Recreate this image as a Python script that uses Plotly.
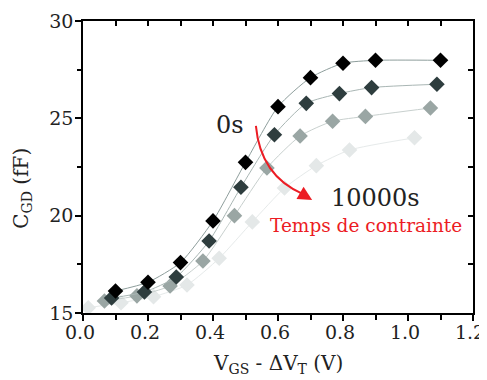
import plotly.graph_objects as go

# Data
x_0s = [0.10, 0.20, 0.30, 0.40, 0.50, 0.60, 0.70, 0.80, 0.90, 1.10]
y_0s = [16.13, 16.58, 17.59, 19.73, 22.74, 25.60, 27.09, 27.83, 27.98, 27.98]

x_s2 = [0.088, 0.189, 0.287, 0.388, 0.486, 0.589, 0.687, 0.789, 0.888, 1.089]
y_s2 = [15.77, 16.08, 16.85, 18.70, 21.46, 24.16, 25.77, 26.27, 26.58, 26.75]

x_s3 = [0.066, 0.166, 0.268, 0.369, 0.466, 0.566, 0.668, 0.768, 0.869, 1.069]
y_s3 = [15.62, 15.88, 16.39, 17.67, 20.00, 22.45, 24.09, 24.85, 25.10, 25.53]

x_10000s = [0.016, 0.117, 0.217, 0.320, 0.419, 0.521, 0.620, 0.718, 0.820, 1.020]
y_10000s = [15.27, 15.53, 15.84, 16.44, 17.81, 19.68, 21.42, 22.57, 23.37, 24.00]

x_ticks = [0.0, 0.2, 0.4, 0.6, 0.8, 1.0, 1.2]
x_ticklabels = ["0.0", "0.2", "0.4", "0.6", "0.8", "1.0", "1.2"]
y_ticks = [15, 20, 25, 30]
y_ticklabels = ["15", "20", "25", "30"]

marker_colors = ["#000000", "#2e3d3e", "#9aa6a4", "#e4e8e8"]
line_colors = ["#8e9e9c", "#a9b6b4", "#c8d0ce", "#e6eaea"]

series = [(x_0s, y_0s), (x_s2, y_s2), (x_s3, y_s3), (x_10000s, y_10000s)]

FONT = "DejaVu Serif"
RED = "#ec1c24"
TXT = "#222222"
XR = [0, 1.2000001]

fig = go.Figure()
for i, (xs, ys) in enumerate(reversed(series)):
    k = 3 - i
    fig.add_trace(go.Scatter(
        x=xs, y=ys, mode="lines+markers",
        line=dict(color=line_colors[k], width=1, shape="spline", smoothing=0.6),
        marker=dict(symbol="diamond", size=12, color=marker_colors[k]),
        showlegend=False,
    ))

fig.add_trace(go.Scatter(x=[None], y=[None], xaxis="x2", yaxis="y2", showlegend=False))

# the page body adds an 8px offset, so the figure is sized to the visible area
fig.update_layout(
    width=479, height=372,
    margin=dict(l=75, r=14, t=13, b=67),
    plot_bgcolor="white", paper_bgcolor="white",
    font=dict(family=FONT, size=19, color=TXT),
    xaxis=dict(
        range=XR, tickmode="array", tickvals=x_ticks, ticktext=x_ticklabels,
        ticks="outside", ticklen=6, tickwidth=1.5, tickcolor="black",
        minor=dict(dtick=0.1, tick0=0, ticks="outside", ticklen=5, tickwidth=1.5, tickcolor="black"),
        showline=True, linecolor="black", linewidth=1.5, showgrid=False, zeroline=False,
        tickfont=dict(family=FONT, size=19, color=TXT),
        ticklabelstandoff=-5, ticklabelshift=-3, automargin=False, ticklabeloverflow="allow",
    ),
    yaxis=dict(
        range=[15, 30], tickmode="array", tickvals=y_ticks, ticktext=y_ticklabels,
        ticks="outside", ticklen=6, tickwidth=1.5, tickcolor="black",
        minor=dict(dtick=2.5, tick0=15, ticks="outside", ticklen=4, tickwidth=1.5, tickcolor="black"),
        showline=True, linecolor="black", linewidth=1.5, showgrid=False, zeroline=False,
        tickfont=dict(family=FONT, size=19, color=TXT),
        ticklabelstandoff=-2, automargin=False, ticklabeloverflow="allow",
    ),
    xaxis2=dict(
        range=XR, overlaying="x", side="top", dtick=0.1, tick0=0,
        ticks="inside", ticklen=5, tickwidth=1.5, tickcolor="black",
        showticklabels=False, showline=True, linecolor="black", linewidth=1.5,
        showgrid=False, zeroline=False,
    ),
    yaxis2=dict(
        range=[15, 30], overlaying="y", side="right", dtick=2.5, tick0=15,
        ticks="inside", ticklen=5, tickwidth=1.5, tickcolor="black",
        showticklabels=False, showline=True, linecolor="black", linewidth=1.5,
        showgrid=False, zeroline=False,
    ),
)

# axis titles
fig.add_annotation(xref="paper", yref="paper", x=0.501, y=-0.175, xanchor="center", yanchor="middle",
                   text="V<sub>GS</sub> - ΔV<sub>T</sub> (V)", showarrow=False,
                   font=dict(family=FONT, size=20, color=TXT))
fig.add_annotation(xref="paper", yref="paper", x=-0.157, y=0.428, xanchor="center", yanchor="middle",
                   text="C<sub>GD</sub> (fF)", showarrow=False, textangle=-90,
                   font=dict(family=FONT, size=20, color=TXT))

# curved red arrow
fig.add_shape(
    type="path", xref="x", yref="y",
    path="M 0.532,24.61 Q 0.546,22.04 0.677,21.11",
    line=dict(color=RED, width=2),
)
fig.add_annotation(
    x=0.705, y=20.81, xref="x", yref="y", ax=-12, ay=-7,
    showarrow=True, arrowhead=2, arrowsize=1.4, arrowwidth=2, arrowcolor=RED, text="",
)

fig.add_annotation(x=0.452, y=24.66, xref="x", yref="y", text="0s", showarrow=False,
                   font=dict(family=FONT, size=24, color=TXT))
fig.add_annotation(x=0.90, y=20.93, xref="x", yref="y", text="10000s", showarrow=False,
                   font=dict(family=FONT, size=24, color=TXT))
fig.add_annotation(x=0.871, y=19.47, xref="x", yref="y", text="Temps de contrainte", showarrow=False,
                   font=dict(family=FONT, size=18.5, color=RED))

fig.write_html("out.html")
